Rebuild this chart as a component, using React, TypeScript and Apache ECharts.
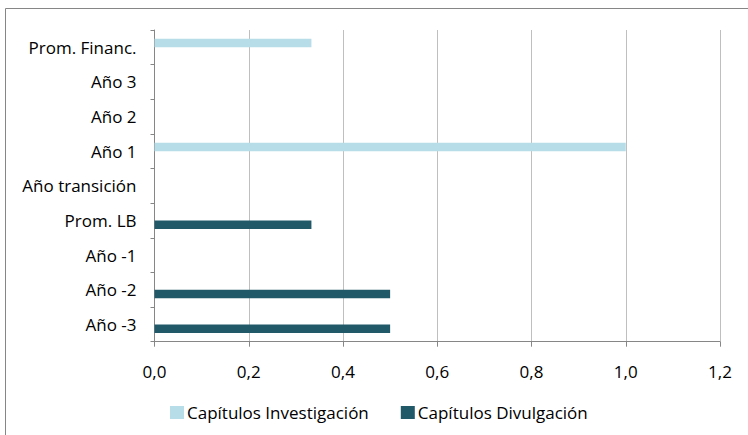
import React, { useEffect, useRef } from "react";
import * as echarts from "echarts";

const categories = ["Año -3", "Año -2", "Año -1", "Prom. LB", "Año transición", "Año 1", "Año 2", "Año 3", "Prom. Financ."];
const investigacion = [0, 0, 0, 0, 0, 1, 0, 0, 0.333];
const divulgacion = [0.5, 0.5, 0, 0.333, 0, 0, 0, 0, 0];
const seriesNames = ["Capítulos Investigación", "Capítulos Divulgación"];
const xMin = 0;
const xMax = 1.2;
const xStep = 0.2;

const FONT = "Open Sans";
const FS = 17;

export default function App() {
  const ref = useRef<HTMLDivElement>(null);
  useEffect(() => {
    if (!ref.current) return;
    const chart = echarts.init(ref.current, null, { renderer: "svg" });
    chart.setOption({
      animation: false,
      backgroundColor: "#ffffff",
      textStyle: { fontFamily: FONT },
      grid: { left: 154.5, right: 28, top: 30, bottom: 93.3, containLabel: false },
      legend: {
        data: seriesNames,
        top: 404,
        left: 170,
        padding: 0,
        itemWidth: 14,
        itemHeight: 13,
        itemGap: 32,
        icon: "rect",
        textStyle: { fontFamily: FONT, fontSize: FS, color: "#000", padding: [0, 0, 0, -2] },
      },
      xAxis: {
        type: "value",
        min: xMin,
        max: xMax,
        interval: xStep,
        axisLine: { show: true, lineStyle: { color: "#868686", width: 1 } },
        axisTick: { show: true, length: 5, lineStyle: { color: "#868686" } },
        splitLine: { show: true, lineStyle: { color: "#BFBFBF", width: 1 } },
        axisLabel: {
          margin: 21,
          fontFamily: FONT,
          fontSize: FS,
          color: "#000",
          formatter: (v: number) => v.toFixed(1).replace(".", ","),
        },
      },
      yAxis: {
        type: "category",
        data: categories,
        axisLine: { show: true, lineStyle: { color: "#868686", width: 1 } },
        axisTick: { show: true, length: 4, lineStyle: { color: "#868686" } },
        axisLabel: { margin: 18, fontFamily: FONT, fontSize: FS, color: "#000" },
      },
      series: [
        {
          name: seriesNames[0],
          type: "bar",
          data: investigacion,
          barWidth: 8.5,
          barGap: "0%",
          itemStyle: { color: "#B7DEE8" },
        },
        {
          name: seriesNames[1],
          type: "bar",
          data: divulgacion,
          barWidth: 8.5,
          barGap: "0%",
          itemStyle: { color: "#215968" },
        },
      ],
      graphic: [
        { type: "line", shape: { x1: 5.5, y1: 8.5, x2: 748, y2: 8.5 }, style: { stroke: "#868686", lineWidth: 1 }, silent: true },
        { type: "line", shape: { x1: 5.5, y1: 8.5, x2: 5.5, y2: 435 }, style: { stroke: "#868686", lineWidth: 1 }, silent: true },
      ],
    });
    return () => chart.dispose();
  }, []);
  return (
    <div
      ref={ref}
      style={{ position: "absolute", left: 0, top: 0, width: 748, height: 435 }}
    />
  );
}
